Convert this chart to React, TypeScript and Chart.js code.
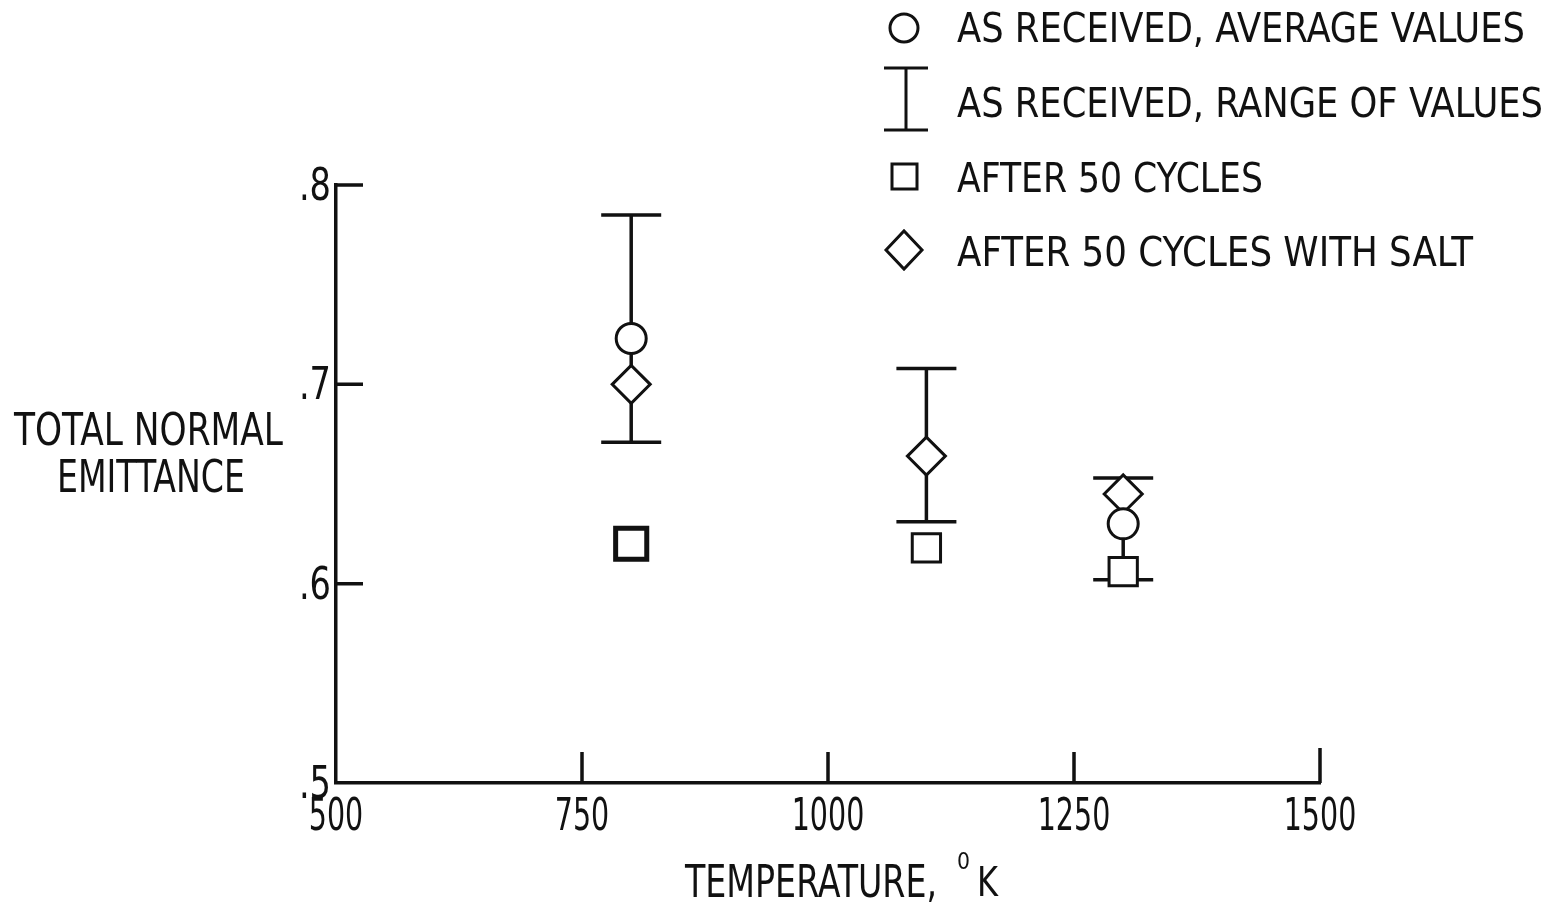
import { useEffect, useRef } from 'react';
import { Chart, registerables } from 'chart.js';

Chart.register(...registerables);

// ---- data ----
const temperatures = [800, 1100, 1300];
const avgValues: (number | null)[] = [0.723, null, 0.63];
const rangeLow = [0.671, 0.631, 0.602];
const rangeHigh = [0.785, 0.708, 0.653];
const after50 = [0.62, 0.618, 0.606];
const after50Salt = [0.7, 0.664, 0.645];
const xTicks = [500, 750, 1000, 1250, 1500];
const yTicks = [0.5, 0.6, 0.7, 0.8];
const legendLabels = [
  'AS RECEIVED, AVERAGE VALUES',
  'AS RECEIVED, RANGE OF VALUES',
  'AFTER 50 CYCLES',
  'AFTER 50 CYCLES WITH SALT',
];
const yTitleLines = ['TOTAL NORMAL', 'EMITTANCE'];
const xTitleText = 'TEMPERATURE,';
const xTitleSup = '0';
const xTitleUnit = 'K';

const FONT = "'DejaVu Sans Condensed', 'Liberation Sans Narrow', sans-serif";
const INK = '#111';

const fmtX = (v: number) => String(v);
const fmtY = (v: number) => '.' + Math.round(v * 10);

// draw text horizontally squeezed to a target width (or a fixed scale)
function drawText(
  ctx: CanvasRenderingContext2D,
  text: string,
  x: number,
  y: number,
  size: number,
  opts: { width?: number; scale?: number; align?: 'left' | 'center' | 'right' }
) {
  ctx.font = `${size}px ${FONT}`;
  ctx.textAlign = 'left';
  ctx.textBaseline = 'alphabetic';
  const w = ctx.measureText(text).width;
  const sx = opts.width ? opts.width / w : opts.scale ?? 1;
  const ew = w * sx;
  const align = opts.align ?? 'left';
  const left = align === 'left' ? x : align === 'center' ? x - ew / 2 : x - ew;
  ctx.save();
  ctx.translate(left, y);
  ctx.scale(sx, 1);
  ctx.fillText(text, 0, 0);
  ctx.restore();
  return ew;
}

const errorBarPlugin = {
  id: 'errorBars',
  beforeDatasetsDraw(chart: any) {
    const { ctx, scales } = chart;
    const xs = scales.x;
    const ys = scales.y;
    ctx.save();
    ctx.strokeStyle = INK;
    ctx.lineWidth = 3.5;
    temperatures.forEach((t, i) => {
      const px = xs.getPixelForValue(t);
      const pLo = ys.getPixelForValue(rangeLow[i]);
      const pHi = ys.getPixelForValue(rangeHigh[i]);
      const half = 30;
      ctx.beginPath();
      ctx.moveTo(px, pLo);
      ctx.lineTo(px, pHi);
      ctx.moveTo(px - half, pHi);
      ctx.lineTo(px + half, pHi);
      ctx.moveTo(px - half, pLo);
      ctx.lineTo(px + half, pLo);
      ctx.stroke();
    });
    ctx.restore();
  },
};

const decorPlugin = {
  id: 'decor',
  afterDraw(chart: any) {
    const { ctx, scales } = chart;
    const xs = scales.x;
    const ys = scales.y;
    const area = chart.chartArea;
    ctx.save();
    ctx.strokeStyle = INK;
    ctx.fillStyle = INK;
    ctx.lineWidth = 3.5;
    // inward tick marks
    ctx.beginPath();
    yTicks.slice(1).forEach((v) => {
      const py = ys.getPixelForValue(v);
      ctx.moveTo(area.left, py);
      ctx.lineTo(area.left + 27, py);
    });
    xTicks.slice(1).forEach((v, i, arr) => {
      const px = xs.getPixelForValue(v);
      ctx.moveTo(px, area.bottom);
      ctx.lineTo(px, area.bottom - (i === arr.length - 1 ? 35 : 31));
    });
    ctx.stroke();

    // tick labels (condensed)
    xs.ticks.forEach((t: any) => {
      const px = xs.getPixelForValue(t.value);
      drawText(ctx, fmtX(t.value), px, area.bottom + 47, 44, { scale: 0.72, align: 'center' });
    });
    ys.ticks.forEach((t: any) => {
      const py = ys.getPixelForValue(t.value);
      drawText(ctx, fmtY(t.value), area.left - 5, py + 15, 44, { scale: 0.85, align: 'right' });
    });

    // y title
    drawText(ctx, yTitleLines[0], 14, 445, 44, { width: 269 });
    drawText(ctx, yTitleLines[1], 57, 492, 44, { width: 188 });

    // x title
    drawText(ctx, xTitleText, 685, 897, 44, { width: 252 });
    drawText(ctx, xTitleSup, 957, 869, 23, { width: 13 });
    drawText(ctx, xTitleUnit, 977, 896, 40, { width: 21 });

    // legend
    const mx = 904;
    const tx = 957;
    const baselines = [42, 117, 192, 266];
    const widths = [568, 586, 306, 516];
    legendLabels.forEach((lab, i) => drawText(ctx, lab, tx, baselines[i], 41, { width: widths[i] }));
    ctx.lineWidth = 3;
    // circle
    ctx.beginPath();
    ctx.arc(mx, 28, 14, 0, Math.PI * 2);
    ctx.stroke();
    // range bar
    ctx.beginPath();
    ctx.moveTo(mx + 2, 68);
    ctx.lineTo(mx + 2, 130);
    ctx.moveTo(mx - 20, 68);
    ctx.lineTo(mx + 24, 68);
    ctx.moveTo(mx - 20, 130);
    ctx.lineTo(mx + 24, 130);
    ctx.stroke();
    // square
    ctx.strokeRect(mx - 12, 164, 25, 25);
    // diamond
    ctx.beginPath();
    ctx.moveTo(mx - 18, 250);
    ctx.lineTo(mx, 231);
    ctx.lineTo(mx + 18, 250);
    ctx.lineTo(mx, 269);
    ctx.closePath();
    ctx.stroke();
    ctx.restore();
  },
};

export default function App() {
  const ref = useRef<HTMLCanvasElement | null>(null);

  useEffect(() => {
    if (!ref.current) return;
    const chart = new Chart(ref.current, {
      type: 'scatter',
      data: {
        datasets: [
          {
            label: legendLabels[0],
            data: temperatures.map((t, i) => ({ x: t, y: avgValues[i] as any })),
            pointStyle: 'circle',
            pointRadius: 15,
            pointBorderWidth: 3,
            borderColor: INK,
            backgroundColor: '#fff',
          },
          {
            label: legendLabels[3],
            data: temperatures.map((t, i) => ({ x: t, y: after50Salt[i] })),
            pointStyle: 'rectRot',
            pointRadius: 19,
            pointBorderWidth: 3,
            borderColor: INK,
            backgroundColor: '#fff',
          },
          {
            label: legendLabels[2],
            data: temperatures.map((t, i) => ({ x: t, y: after50[i] })),
            pointStyle: 'rect',
            pointRadius: [22, 20, 20],
            pointBorderWidth: [5, 3, 3],
            borderColor: INK,
            backgroundColor: '#fff',
          },
        ],
      },
      options: {
        responsive: false,
        animation: false,
        events: [],
        layout: { padding: { left: 236, top: 185, right: 244, bottom: 62 } },
        plugins: { legend: { display: false }, tooltip: { enabled: false } },
        scales: {
          x: {
            type: 'linear',
            min: 500,
            max: 1500,
            afterBuildTicks: (s: any) => {
              s.ticks = xTicks.map((v) => ({ value: v }));
            },
            afterFit: (s: any) => {
              s.height = 60;
            },
            grid: { display: false, drawTicks: false },
            border: { display: true, color: INK, width: 3.5 },
            ticks: { display: false, autoSkip: false, callback: (v: any) => fmtX(Number(v)) },
          },
          y: {
            type: 'linear',
            min: 0.5,
            max: 0.8,
            afterBuildTicks: (s: any) => {
              s.ticks = yTicks.map((v) => ({ value: v }));
            },
            afterFit: (s: any) => {
              s.width = 100;
            },
            grid: { display: false, drawTicks: false },
            border: { display: true, color: INK, width: 3.5 },
            ticks: { display: false, autoSkip: false, callback: (v: any) => fmtY(Number(v)) },
          },
        },
      },
      plugins: [errorBarPlugin, decorPlugin],
    } as any);
    return () => chart.destroy();
  }, []);

  return (
    <div style={{ position: 'absolute', left: 0, top: 0, width: 1564, height: 905, background: '#fff' }}>
      <canvas ref={ref} width={1564} height={905} />
    </div>
  );
}
